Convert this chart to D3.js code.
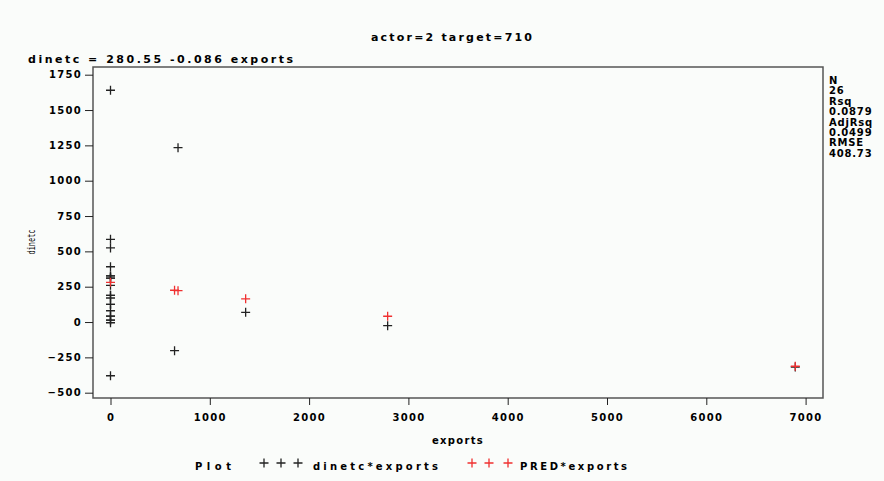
<!DOCTYPE html>
<html>
<head>
<meta charset="utf-8">
<script src="https://cdn.jsdelivr.net/npm/d3@7"></script>
<style>
  body { margin: 0; background: #fafcfa; }
  svg { display: block; }
</style>
</head>
<body>
<div id="chart"></div>
<script>
// observed points (dinetc vs exports)
var obsExports = [0, 0, 0, 0, 0, 0, 0, 0, 0, 0, 0, 0, 0, 0, 0, 0, 0, 0, 0, 0, 0,
                  645, 680, 1361, 2791, 6896];
var obsDinetc  = [1640, 585, 524, 391, 326, 326, 311, 311, 260, 189, 189, 170, 125, 125, 80, 42, 42, 14, 14, -5, -380,
                  -203, 1234, 69, -26, -318];

// predicted values
var predExports = [0, 645, 680, 1361, 2791, 6896];
var predDinetc  = [281, 225, 222, 164, 41, -313];

var xTicks = [0, 1000, 2000, 3000, 4000, 5000, 6000, 7000];
var yTicks = [-500, -250, 0, 250, 500, 750, 1000, 1250, 1500, 1750];

var stats = ["N", "26", "Rsq", "0.0879", "AdjRsq", "0.0499", "RMSE", "408.73"];

var width = 884, height = 481;
var frame = {left: 93, right: 823, top: 67, bottom: 398};
var font = "DejaVu Sans";

var svg = d3.select("#chart").append("svg")
  .attr("width", width)
  .attr("height", height)
  .attr("font-family", font)
  .attr("font-weight", "bold");

var x = d3.scaleLinear().domain([0, 7000]).range([110.5, 805.6]);
var y = d3.scaleLinear().domain([-500, 1750]).range([392.7, 74.7]);

// frame
svg.append("rect")
  .attr("x", frame.left)
  .attr("y", frame.top)
  .attr("width", frame.right - frame.left)
  .attr("height", frame.bottom - frame.top)
  .attr("fill", "none")
  .attr("stroke", "#555")
  .attr("stroke-width", 1.5);

// y axis
var yAxis = svg.append("g")
  .attr("transform", "translate(" + frame.left + ",0)")
  .call(d3.axisLeft(y).tickValues(yTicks).tickFormat(d3.format("d")).tickSize(8).tickPadding(3));
yAxis.select(".domain").remove();
yAxis.selectAll("line").attr("stroke", "#222");
yAxis.selectAll("text")
  .attr("font-size", "10px")
  .attr("letter-spacing", "1.3px")
  .attr("font-family", font)
  .attr("font-weight", "bold")
  .attr("fill", "#000");

// x axis
var xAxis = svg.append("g")
  .attr("transform", "translate(0," + frame.bottom + ")")
  .call(d3.axisBottom(x).tickValues(xTicks).tickFormat(d3.format("d")).tickSize(7).tickPadding(9));
xAxis.select(".domain").remove();
xAxis.selectAll("line").attr("stroke", "#222");
xAxis.selectAll("text")
  .attr("font-size", "10px")
  .attr("letter-spacing", "1.3px")
  .attr("font-family", font)
  .attr("font-weight", "bold")
  .attr("fill", "#000");

// crosses
function cross(g, cx, cy, color) {
  g.append("path")
    .attr("d", "M" + (cx - 4.5) + "," + cy + "H" + (cx + 4.5) + "M" + cx + "," + (cy - 4.5) + "V" + (cy + 4.5))
    .attr("stroke", color)
    .attr("stroke-width", 1.3)
    .attr("fill", "none");
}

var marks = svg.append("g");
obsExports.forEach(function(e, i) { cross(marks, x(e), y(obsDinetc[i]), "#222"); });
predExports.forEach(function(e, i) { cross(marks, x(e), y(predDinetc[i]), "#f03030"); });

// titles
svg.append("text")
  .attr("x", 371).attr("y", 41)
  .attr("font-size", "11px")
  .attr("textLength", 161).attr("lengthAdjust", "spacing")
  .text("actor=2 target=710");

svg.append("text")
  .attr("x", 28).attr("y", 63)
  .attr("font-size", "11px")
  .attr("textLength", 265).attr("lengthAdjust", "spacing")
  .text("dinetc = 280.55 -0.086 exports");

svg.append("text")
  .attr("transform", "translate(35,242) rotate(-90)")
  .attr("text-anchor", "middle")
  .attr("font-size", "11px")
  .attr("font-weight", "normal")
  .attr("font-family", "DejaVu Sans Mono")
  .attr("textLength", 25).attr("lengthAdjust", "spacingAndGlyphs")
  .text("dinetc");

svg.append("text")
  .attr("x", 458).attr("y", 444)
  .attr("text-anchor", "middle")
  .attr("font-size", "10px")
  .attr("letter-spacing", "1.3px")
  .text("exports");

// stats panel
svg.selectAll(".stat")
  .data(stats)
  .enter().append("text")
  .attr("class", "stat")
  .attr("x", 829)
  .attr("y", (d, i) => 84 + i * 10.4)
  .attr("font-size", "10px")
  .attr("letter-spacing", "0.8px")
  .text(d => d);

// legend
var leg = svg.append("g");
leg.append("text").attr("x", 195).attr("y", 470).attr("font-size", "10px")
  .attr("textLength", 36).attr("lengthAdjust", "spacing").text("Plot");
[264, 281, 298].forEach(cx => cross(leg, cx, 463, "#222"));
leg.append("text").attr("x", 313).attr("y", 470).attr("font-size", "10px")
  .attr("textLength", 125).attr("lengthAdjust", "spacing").text("dinetc*exports");
[472, 489, 508].forEach(cx => cross(leg, cx, 463, "#f03030"));
leg.append("text").attr("x", 520).attr("y", 470).attr("font-size", "10px")
  .attr("textLength", 107).attr("lengthAdjust", "spacing").text("PRED*exports");
</script>
</body>
</html>
